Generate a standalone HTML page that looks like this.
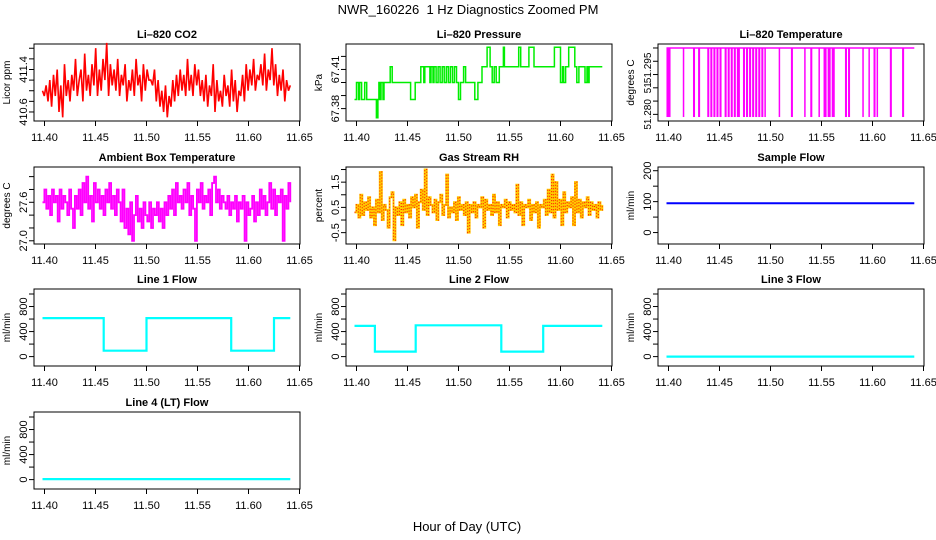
<!DOCTYPE html>
<html><head><meta charset="utf-8">
<style>
html,body{margin:0;padding:0;background:#fff;}
svg{display:block;font-family:"Liberation Sans",Arial,sans-serif;}
</style></head>
<body>
<svg id="chart" width="936" height="540" viewBox="0 0 936 540" xmlns="http://www.w3.org/2000/svg">
<text x="468" y="14" font-size="13" text-anchor="middle">NWR_160226&#160; 1 Hz Diagnostics Zoomed PM</text>
<text x="467" y="531" font-size="13" text-anchor="middle">Hour of Day (UTC)</text>
</svg>
<script>
const xTicks = [11.40, 11.45, 11.50, 11.55, 11.60, 11.65];
const xTickLabels = ["11.40", "11.45", "11.50", "11.55", "11.60", "11.65"];

const co2Values = [411.0,410.9,411.1,410.8,411.2,410.7,411.3,410.9,411.4,410.6,411.1,410.5,411.5,410.9,411.2,410.8,411.3,411.0,411.6,410.9,
411.2,411.4,410.8,411.7,411.0,411.3,410.9,411.5,411.1,411.8,410.9,411.4,411.0,411.6,411.2,411.9,410.9,411.5,411.1,411.4,
411.0,411.6,410.9,411.3,411.1,411.5,410.8,411.2,411.0,411.4,410.9,411.6,411.1,411.3,410.8,411.5,411.0,411.4,411.2,411.2,
411.1,411.4,410.8,411.2,410.7,411.0,410.6,411.1,410.5,410.9,410.7,411.2,410.8,411.3,410.9,411.4,411.0,411.3,410.9,411.6,
411.0,411.3,410.9,411.5,411.1,411.4,410.9,411.2,410.8,411.3,410.7,411.1,410.9,411.5,410.6,411.2,410.8,411.0,410.7,411.3,
410.9,411.1,410.7,411.4,410.8,411.2,410.6,411.0,410.9,411.3,410.8,411.5,411.0,411.4,411.1,411.6,411.0,411.3,411.2,411.5,
411.1,411.7,411.0,411.4,411.2,411.8,411.1,411.5,410.9,411.3,411.0,411.4,410.8,411.2,411.0,411.1];
const co2Ticks = [410.6, 410.8, 411.0, 411.2, 411.4, 411.6, 411.8];
const co2TickLabels = ["410.6", "", "", "", "411.4", "", ""];

const pressureTimes = [11.398,11.400,11.402,11.403,11.405,11.408,11.410,11.4195,11.421,11.422,11.423,11.424,11.426,11.427,11.433,11.435,11.453,11.4575,11.463,11.466,11.467,11.472,11.473,11.475,11.476,11.478,11.480,11.482,11.484,11.486,11.488,11.490,11.492,11.494,11.496,11.498,11.500,11.502,11.505,11.507,11.516,11.519,11.523,11.528,11.531,11.533,11.535,11.537,11.540,11.544,11.545,11.559,11.561,11.569,11.574,11.594,11.600,11.602,11.603,11.605,11.608,11.614,11.616,11.618,11.624,11.626,11.627,11.628,11.641];
const pressureValues = [67.387,67.400,67.387,67.400,67.387,67.400,67.387,67.373,67.387,67.400,67.387,67.400,67.387,67.400,67.412,67.400,67.387,67.400,67.412,67.400,67.412,67.400,67.412,67.400,67.412,67.400,67.412,67.400,67.412,67.400,67.412,67.400,67.412,67.400,67.412,67.400,67.387,67.400,67.412,67.400,67.387,67.400,67.412,67.427,67.412,67.400,67.412,67.400,67.412,67.427,67.412,67.427,67.412,67.427,67.412,67.427,67.400,67.412,67.400,67.412,67.427,67.412,67.400,67.412,67.400,67.412,67.400,67.412,67.412];
const pressureTicks = [67.38, 67.39, 67.40, 67.41, 67.42];
const pressureTickLabels = ["67.38", "", "", "67.41", ""];

const licorTempHigh = 51.305;
const licorTempLow = 51.279;
const licorDropStart = [11.398,11.414,11.424,11.429,11.438,11.441,11.444,11.447,11.450,11.455,11.458,11.461,11.464,11.467,11.473,11.476,11.479,11.482,11.485,11.488,11.491,11.494,11.508,11.520,11.533,11.539,11.547,11.552,11.556,11.560,11.573,11.576,11.590,11.596,11.601,11.604,11.617,11.629];
const licorDropEnd   = [11.402,11.415,11.426,11.431,11.440,11.443,11.446,11.449,11.452,11.457,11.460,11.463,11.466,11.470,11.475,11.478,11.481,11.484,11.487,11.490,11.493,11.495,11.509,11.522,11.534,11.541,11.548,11.555,11.559,11.563,11.575,11.578,11.591,11.597,11.603,11.605,11.619,11.631];
const licorTempTicks = [51.280, 51.285, 51.290, 51.295, 51.300, 51.305];
const licorTempLabelValues = [51.280, 51.290, 51.2975];
const licorTempLabels = ["51.280", "51", "51.295"];

const ambientValues = [27.6,27.8,27.5,27.7,27.4,27.8,27.6,27.7,27.3,27.8,27.5,27.7,27.6,27.4,27.8,27.5,27.2,27.7,27.5,27.8,
27.4,27.9,27.6,28.0,27.5,27.7,27.3,27.9,27.6,27.8,27.5,27.7,27.4,27.8,27.6,27.9,27.5,27.7,27.4,27.8,
27.6,27.3,27.8,27.2,27.5,27.1,27.6,27.0,27.4,27.7,27.3,27.5,27.2,27.6,27.4,27.3,27.6,27.2,27.5,27.4,
27.6,27.3,27.5,27.2,27.6,27.4,27.7,27.5,27.8,27.4,27.9,27.6,27.7,27.5,27.8,27.6,27.9,27.4,27.7,27.5,
27.0,27.8,27.6,27.9,27.5,27.7,27.6,27.8,27.4,27.9,28.0,27.6,27.8,27.5,27.7,27.6,27.5,27.7,27.4,27.6,
27.5,27.7,27.3,27.6,27.5,27.7,27.0,27.6,27.4,27.5,27.7,27.3,27.6,27.4,27.8,27.5,27.7,27.4,27.6,27.9,
27.5,27.8,27.4,27.7,27.6,27.8,27.0,27.7,27.5,27.9,27.6];
const ambientTicks = [27.0, 27.2, 27.4, 27.6, 27.8, 28.0];
const ambientTickLabels = ["27.0", "", "", "27.6", "", ""];

const rhValues = [0.3,0.6,0.1,1.0,0.2,0.7,0.4,0.9,0.1,0.5,-0.2,0.8,0.3,1.9,0.0,0.6,0.4,-0.3,0.9,1.1,
-0.8,0.5,0.2,0.7,-0.2,0.8,0.3,0.6,0.1,0.9,0.5,1.0,-0.3,0.7,1.2,0.4,2.0,0.2,0.9,0.6,
0.3,0.8,0.0,0.7,1.0,0.2,0.6,1.8,0.1,0.5,0.3,0.7,0.0,0.9,0.4,0.6,0.2,0.7,-0.5,0.6,
0.3,0.7,0.1,0.6,0.5,0.9,-0.3,0.8,0.4,0.6,0.2,1.0,0.3,0.7,-0.2,0.6,0.5,0.8,0.1,0.7,
0.4,0.6,0.3,1.4,0.2,0.7,-0.2,0.6,0.5,0.8,0.0,0.6,0.3,0.7,-0.3,0.6,0.5,0.8,0.2,1.2,
0.3,1.8,0.1,1.5,0.4,0.8,-0.2,1.1,0.3,0.7,0.5,0.9,-0.2,1.5,0.3,0.8,0.1,0.7,0.5,0.9,
0.2,0.7,0.4,0.6,0.1,0.7,0.4,0.6];
const rhTicks = [-0.5, 0.0, 0.5, 1.0, 1.5, 2.0];
const rhTickLabels = ["-0.5", "", "0.5", "", "1.5", ""];

const sampleFlowTimes = [11.398, 11.641];
const sampleFlowValues = [95, 95];
const sampleFlowTicks = [0, 50, 100, 150, 200];
const sampleFlowTickLabels = ["0", "", "100", "", "200"];

const line1Times = [11.398, 11.458, 11.500, 11.583, 11.625, 11.641];
const line1Values = [615, 95, 615, 95, 615, 615];
const line2Times = [11.398, 11.418, 11.458, 11.542, 11.583, 11.641];
const line2Values = [490, 80, 500, 80, 490, 490];
const line3Times = [11.398, 11.641];
const line3Values = [0, 0];
const line4Times = [11.398, 11.641];
const line4Values = [8, 8];
const flowTicks = [0, 200, 400, 600, 800, 1000];
const flowTickLabels = ["0", "", "400", "", "800", ""];

const NS = "http://www.w3.org/2000/svg";
const svg = document.getElementById("chart");
const colLeft = [34, 346, 658];
const rowTop = [44, 167, 289, 412];
const PW = 266, PH = 77;
const X0 = 11.3897, X1 = 11.6505;

function mk(tag, attrs, parent) {
  const e = document.createElementNS(NS, tag);
  for (const k in attrs) e.setAttribute(k, attrs[k]);
  (parent || svg).appendChild(e);
  return e;
}

function makePanel(name, col, row, title, ytitle, ymin, ymax, ticks, tickLabels) {
  const g = mk("g", {});
  
  
  const L = colLeft[col], T = rowTop[row];
  const sx = t => L + (t - X0) / (X1 - X0) * PW;
  const sy = v => T + PH - (v - ymin) / (ymax - ymin) * PH;
  const box = mk("rect", {x: L, y: T, width: PW, height: PH, fill: "none", stroke: "#000", "stroke-width": 1}, g);
  
  
  const tt = mk("text", {x: L + PW / 2, y: T - 6, "font-size": 11, "font-weight": "bold", "text-anchor": "middle"}, g);
  tt.textContent = title;
  
  
  const yt = mk("text", {transform: `translate(${L - 24},${T + PH / 2}) rotate(-90)`, "font-size": 10, "text-anchor": "middle"}, g);
  yt.textContent = ytitle;
  
  
  const xa = mk("g", {}, g);
  
  
  mk("line", {x1: sx(xTicks[0]), x2: sx(xTicks[xTicks.length - 1]), y1: T + PH, y2: T + PH, stroke: "#000"}, xa);
  xTicks.forEach((v, i) => {
    mk("line", {x1: sx(v), x2: sx(v), y1: T + PH, y2: T + PH + 5, stroke: "#000"}, xa);
    const lb = mk("text", {x: sx(v), y: T + PH + 20, "font-size": 11, "text-anchor": "middle"}, xa);
    lb.textContent = xTickLabels[i];
    
    
  });
  const ya = mk("g", {}, g);
  
  
  mk("line", {x1: L, x2: L, y1: sy(ticks[0]), y2: sy(ticks[ticks.length - 1]), stroke: "#000"}, ya);
  ticks.forEach((v, i) => {
    mk("line", {x1: L - 5, x2: L, y1: sy(v), y2: sy(v), stroke: "#000"}, ya);
    if (tickLabels && tickLabels[i]) {
      const lb = mk("text", {transform: `translate(${L - 7},${sy(v)}) rotate(-90)`, "font-size": 11, "text-anchor": "middle"}, ya);
      lb.textContent = tickLabels[i];
      
      
    }
  });
  return {g, sx, sy, L, ya};
}

function evenTimes(n) { const a = []; for (let i = 0; i < n; i++) a.push(11.398 + i * 0.243 / (n - 1)); return a; }
function linePath(times, vals, sx, sy) { return times.map((t, i) => (i ? "L" : "M") + sx(t).toFixed(1) + "," + sy(vals[i]).toFixed(1)).join(""); }
function stepPath(times, vals, sx, sy) {
  let d = "M" + sx(times[0]).toFixed(1) + "," + sy(vals[0]).toFixed(1);
  for (let i = 1; i < times.length; i++) d += "H" + sx(times[i]).toFixed(1) + "V" + sy(vals[i]).toFixed(1);
  return d;
}

let p = makePanel("co2", 0, 0, "Li\u2013820 CO2", "Licor ppm", 410.43, 411.88, co2Ticks, co2TickLabels);
let s = mk("path", {d: linePath(evenTimes(co2Values.length), co2Values, p.sx, p.sy), fill: "none", stroke: "#ff0000", "stroke-width": 1.6}, p.g);
 

p = makePanel("pressure", 1, 0, "Li\u2013820 Pressure", "kPa", 67.3705, 67.4295, pressureTicks, pressureTickLabels);
s = mk("path", {d: stepPath(pressureTimes, pressureValues, p.sx, p.sy), fill: "none", stroke: "#00ee00", "stroke-width": 1.5}, p.g);
 

p = makePanel("licor-temp", 2, 0, "Li\u2013820 Temperature", "degrees C", 51.2775, 51.3065, licorTempTicks, null);
licorTempLabelValues.forEach((v, i) => {
  const lb = mk("text", {transform: `translate(${p.L - 7},${p.sy(v)}) rotate(-90)`, "font-size": 10, "text-anchor": "middle"}, p.ya);
  lb.textContent = licorTempLabels[i];
  
  
});
s = mk("line", {x1: p.sx(11.398), x2: p.sx(11.641), y1: p.sy(licorTempHigh), y2: p.sy(licorTempHigh), stroke: "#ff00ff", "stroke-width": 1.5}, p.g);
 
licorDropStart.forEach((t, i) => {
  const r = mk("rect", {x: p.sx(t), y: p.sy(licorTempHigh), width: Math.max(1.5, p.sx(licorDropEnd[i]) - p.sx(t)), height: p.sy(licorTempLow) - p.sy(licorTempHigh), fill: "#ff00ff"}, p.g);
  
  
});

p = makePanel("ambient-temp", 0, 1, "Ambient Box Temperature", "degrees C", 26.95, 28.15, ambientTicks, ambientTickLabels);
s = mk("path", {d: stepPath(evenTimes(ambientValues.length), ambientValues, p.sx, p.sy), fill: "none", stroke: "#ff00ff", "stroke-width": 1.8}, p.g);
 

p = makePanel("rh", 1, 1, "Gas Stream RH", "percent", -0.95, 2.1, rhTicks, rhTickLabels);
const rhT = evenTimes(rhValues.length);
s = mk("path", {d: stepPath(rhT, rhValues, p.sx, p.sy), fill: "none", stroke: "#ffcc00", "stroke-width": 2}, p.g);
 
s = mk("path", {d: stepPath(rhT, rhValues, p.sx, p.sy), fill: "none", stroke: "#ff2000", "stroke-width": 1.2, "stroke-dasharray": "1,2"}, p.g);
 

p = makePanel("sample-flow", 2, 1, "Sample Flow", "ml/min", -37, 212, sampleFlowTicks, sampleFlowTickLabels);
s = mk("path", {d: linePath(sampleFlowTimes, sampleFlowValues, p.sx, p.sy), fill: "none", stroke: "#0000ff", "stroke-width": 2}, p.g);
 

const flows = [["line1-flow", 0, 2, "Line 1 Flow", line1Times, line1Values], ["line2-flow", 1, 2, "Line 2 Flow", line2Times, line2Values], ["line3-flow", 2, 2, "Line 3 Flow", line3Times, line3Values], ["line4-flow", 0, 3, "Line 4 (LT) Flow", line4Times, line4Values]];
flows.forEach(f => {
  const q = makePanel(f[0], f[1], f[2], f[3], "ml/min", -150, 1080, flowTicks, flowTickLabels);
  const ln = mk("path", {d: stepPath(f[4], f[5], q.sx, q.sy), fill: "none", stroke: "#00ffff", "stroke-width": 2.2}, q.g);
  
  
});
</script>
</body></html>
